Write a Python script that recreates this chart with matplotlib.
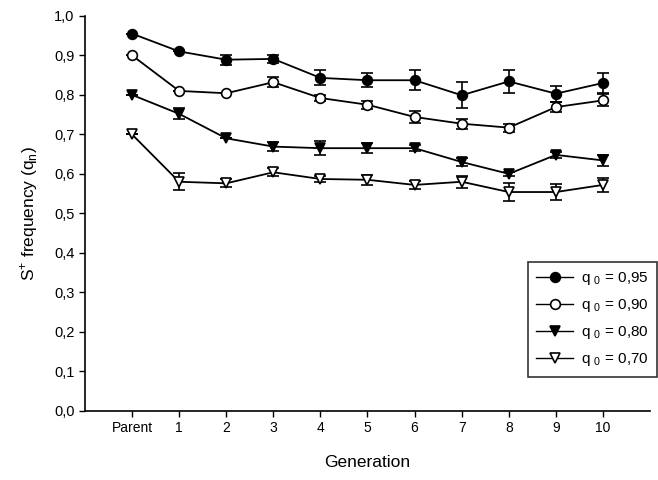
#S+ frequency over generations, four starting frequencies
import numpy as np
import matplotlib
matplotlib.use('Agg')
import matplotlib.pyplot as plt
from matplotlib.lines import Line2D

plt.rcParams['font.family'] = ['Liberation Sans', 'DejaVu Sans']

generations = ['Parent', '1', '2', '3', '4', '5', '6', '7', '8', '9', '10']
y_ticks = [0.0, 0.1, 0.2, 0.3, 0.4, 0.5, 0.6, 0.7, 0.8, 0.9, 1.0]
y_tick_labels = ['0,0', '0,1', '0,2', '0,3', '0,4', '0,5', '0,6', '0,7', '0,8', '0,9', '1,0']

q095 = [0.955, 0.910, 0.889, 0.891, 0.843, 0.837, 0.837, 0.799, 0.834, 0.803, 0.830]
q095_err = [0.0, 0.0, 0.013, 0.010, 0.019, 0.018, 0.025, 0.033, 0.030, 0.020, 0.026]

q090 = [0.900, 0.810, 0.804, 0.832, 0.792, 0.775, 0.744, 0.727, 0.717, 0.769, 0.786]
q090_err = [0.0, 0.0, 0.0, 0.013, 0.008, 0.010, 0.015, 0.013, 0.010, 0.013, 0.015]

q080 = [0.800, 0.752, 0.690, 0.669, 0.665, 0.665, 0.665, 0.630, 0.600, 0.648, 0.634]
q080_err = [0.0, 0.014, 0.0, 0.012, 0.018, 0.012, 0.008, 0.010, 0.005, 0.008, 0.014]

q070 = [0.700, 0.580, 0.576, 0.604, 0.587, 0.585, 0.572, 0.580, 0.554, 0.554, 0.572]
q070_err = [0.0, 0.021, 0.010, 0.010, 0.008, 0.012, 0.010, 0.015, 0.022, 0.020, 0.017]

labels = ['q $_\\mathregular{0}$ = 0,95', 'q $_\\mathregular{0}$ = 0,90',
          'q $_\\mathregular{0}$ = 0,80', 'q $_\\mathregular{0}$ = 0,70']

x = np.arange(len(generations))

fig = plt.figure(figsize=(6.58, 4.8), dpi=100)
ax = fig.add_axes([0.129, 0.144, 0.859, 0.823])

series = [(q095, q095_err, 'o', 'black'),
          (q090, q090_err, 'o', 'white'),
          (q080, q080_err, 'v', 'black'),
          (q070, q070_err, 'v', 'white')]

handles = []
for (vals, err, mk, fc), lab in zip(series, labels):
    ax.errorbar(x, vals, yerr=err, color='black', marker=mk, markerfacecolor=fc,
                markeredgecolor='black', markersize=7, markeredgewidth=1.2,
                linewidth=1.3, capsize=4, elinewidth=1.2, capthick=1.2)
    handles.append(Line2D([], [], color='black', marker=mk, markerfacecolor=fc,
                          markeredgecolor='black', markersize=7, markeredgewidth=1.2,
                          linewidth=1.0, label=lab))

ax.set_xlim(-1, 11)
ax.set_ylim(0, 1.0)
ax.set_xticks(x)
ax.set_xticklabels(generations, fontsize=10)
ax.set_yticks(y_ticks)
ax.set_yticklabels(y_tick_labels, fontsize=10.5)
ax.tick_params(direction='out', length=4, width=1)
ax.spines['top'].set_visible(False)
ax.spines['right'].set_visible(False)
ax.spines['left'].set_linewidth(1.2)
ax.spines['bottom'].set_linewidth(1.2)

ax.set_xlabel('Generation', fontsize=12.5, labelpad=14)
ax.set_ylabel('S$^\\mathregular{+}$ frequency (q$_\\mathregular{n}$)', fontsize=12.5, labelpad=10)

leg = ax.legend(handles=handles, loc='upper right', bbox_to_anchor=(0.998, 0.454),
                bbox_transform=fig.transFigure, borderaxespad=0,
                fontsize=11, frameon=True, fancybox=False, edgecolor='black',
                handlelength=2.4, handletextpad=0.5, borderpad=0.55, labelspacing=0.65)
leg.get_frame().set_linewidth(1.2)

fig.savefig('out.png', dpi=100)
